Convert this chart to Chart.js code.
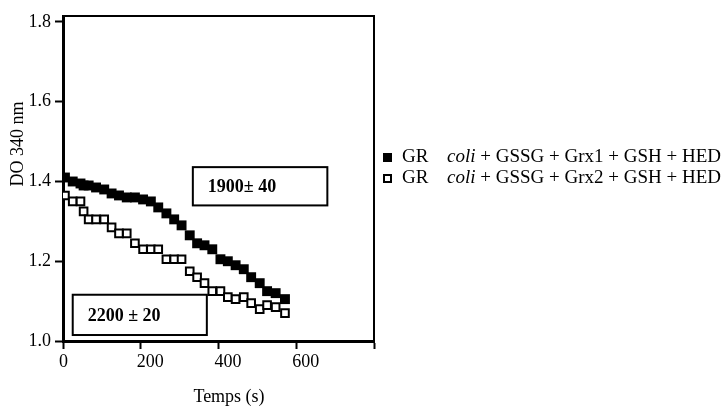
<!DOCTYPE html>
<html>
<head>
<meta charset="utf-8">
<title>DO 340 nm</title>
<script src="https://cdn.jsdelivr.net/npm/chart.js@4/dist/chart.umd.min.js"></script>
<style>
    body { margin: 0; background: #ffffff; }
    canvas { display: block; }
</style>
</head>
<body>
<canvas id="doChart" width="726" height="410"></canvas>
<script>
// Time points (s)
const times = [5, 25, 45, 53, 66, 85, 106, 125, 144, 164, 185, 206, 226, 245, 266, 286, 305, 326, 345, 364, 384, 405, 424, 444, 465, 484, 506, 525, 547, 571];

// DO 340 nm, GR coli + GSSG + Grx1 + GSH + HED (filled squares)
const grx1Values = [1.41, 1.40, 1.395, 1.39, 1.39, 1.385, 1.38, 1.37, 1.365, 1.36, 1.36, 1.355, 1.35, 1.335, 1.32, 1.305, 1.29, 1.265, 1.245, 1.24, 1.23, 1.205, 1.20, 1.19, 1.18, 1.16, 1.145, 1.125, 1.12, 1.105];

// DO 340 nm, GR coli + GSSG + Grx2 + GSH + HED (open squares)
const grx2Values = [1.365, 1.35, 1.35, 1.325, 1.305, 1.305, 1.305, 1.285, 1.27, 1.27, 1.245, 1.23, 1.23, 1.23, 1.205, 1.205, 1.205, 1.175, 1.16, 1.145, 1.125, 1.125, 1.11, 1.105, 1.11, 1.095, 1.08, 1.09, 1.085, 1.07];

// Axis ticks
const xTicks = [0, 200, 400, 600, 800];
const yTicks = [1.0, 1.2, 1.4, 1.6, 1.8];

// Legend and box texts
const legendPrefix = ['GR', 'GR'];
const legendItalic = ['coli', 'coli'];
const legendRest = [' + GSSG + Grx1 + GSH + HED', ' + GSSG + Grx2 + GSH + HED'];
const boxLabels = ['1900\u00b1 40', '2200 \u00b1 20'];

const SERIF = '"Liberation Serif", "Times New Roman", Times, serif';
Chart.defaults.font.family = SERIF;
Chart.defaults.color = '#000';

// Build {x, y} points from the arrays
function toPoints(values) {
    return values.map(function(v, i) {
        return { x: times[i], y: v };
    });
}

// Plugin: frame, axis titles, boxed rate labels and the legend
const extrasPlugin = {
    id: 'extras',
    afterDraw: function(chart) {
        const ctx = chart.ctx;
        const area = chart.chartArea;
        const xs = chart.scales.x;
        const ys = chart.scales.y;
        ctx.save();

        // top and right side of the frame
        ctx.strokeStyle = '#000';
        ctx.lineWidth = 2;
        ctx.beginPath();
        ctx.moveTo(area.left, area.top);
        ctx.lineTo(area.right, area.top);
        ctx.lineTo(area.right, area.bottom);
        ctx.stroke();

        // axis titles
        ctx.fillStyle = '#000';
        ctx.font = '18px ' + SERIF;
        ctx.textAlign = 'center';
        ctx.textBaseline = 'middle';
        ctx.fillText('Temps (s)', 229, 397);
        ctx.save();
        ctx.translate(18, 144);
        ctx.rotate(-Math.PI / 2);
        ctx.fillText('DO 340 nm', 0, 0);
        ctx.restore();

        // boxed labels, placed in data units
        const boxes = [
            { x0: 334, x1: 680, y0: 1.436, y1: 1.340, tx: 15 },
            { x0: 25, x1: 370, y0: 1.116, y1: 1.015, tx: 15 }
        ];
        ctx.lineWidth = 2;
        ctx.font = 'bold 18px ' + SERIF;
        ctx.textAlign = 'left';
        boxes.forEach(function(b, i) {
            const l = xs.getPixelForValue(b.x0);
            const r = xs.getPixelForValue(b.x1);
            const t = ys.getPixelForValue(b.y0);
            const bt = ys.getPixelForValue(b.y1);
            ctx.strokeRect(l, t, r - l, bt - t);
            ctx.fillText(boxLabels[i], l + b.tx, (t + bt) / 2 + 1);
        });

        // legend
        const rows = [157, 178];
        rows.forEach(function(y, i) {
            if (i === 0) {
                ctx.fillRect(383, y - 4, 9, 9);
            } else {
                ctx.lineWidth = 2;
                ctx.strokeRect(384, y - 3, 7, 7);
            }
            ctx.font = '19px ' + SERIF;
            ctx.fillText(legendPrefix[i], 402, y);
            ctx.font = 'italic 19px ' + SERIF;
            ctx.fillText(legendItalic[i], 447, y);
            const w = ctx.measureText(legendItalic[i]).width;
            ctx.font = '19px ' + SERIF;
            ctx.fillText(legendRest[i], 447 + w, y);
        });

        ctx.restore();
    }
};

var ctx = document.getElementById('doChart').getContext('2d');
var doChart = new Chart(ctx, {
    type: 'scatter',
    data: {
        datasets: [
            {
                label: 'GR coli + GSSG + Grx1 + GSH + HED',
                data: toPoints(grx1Values),
                pointStyle: 'rect',
                pointRadius: 7,
                backgroundColor: '#000',
                borderColor: '#000',
                borderWidth: 0,
                showLine: false
            },
            {
                label: 'GR coli + GSSG + Grx2 + GSH + HED',
                data: toPoints(grx2Values),
                pointStyle: 'rect',
                pointRadius: 5.4,
                backgroundColor: '#fff',
                borderColor: '#000',
                borderWidth: 2,
                showLine: false
            }
        ]
    },
    options: {
        responsive: false,
        animation: false,
        layout: {
            padding: { top: 16, right: 352, left: 0, bottom: 0 }
        },
        plugins: {
            legend: { display: false },
            tooltip: { enabled: false }
        },
        scales: {
            x: {
                type: 'linear',
                min: 0,
                max: 800,
                afterFit: function(scale) { scale.height = 69; },
                afterBuildTicks: function(scale) {
                    scale.ticks = xTicks.map(function(v) { return { value: v }; });
                },
                ticks: {
                    font: { size: 18 },
                    color: '#000',
                    align: 'start',
                    labelOffset: -4,
                    padding: 2,
                    maxRotation: 0,
                    callback: function(value) {
                        return value === 800 ? '' : value;
                    }
                },
                grid: {
                    drawOnChartArea: false,
                    tickLength: 8,
                    tickWidth: 2,
                    tickColor: '#000'
                },
                border: { display: true, color: '#000', width: 3 }
            },
            y: {
                type: 'linear',
                min: 1.0,
                max: 1.815,
                afterFit: function(scale) { scale.width = 63; },
                afterBuildTicks: function(scale) {
                    scale.ticks = yTicks.map(function(v) { return { value: v }; });
                },
                ticks: {
                    font: { size: 18 },
                    color: '#000',
                    padding: 4,
                    callback: function(value) {
                        return value.toFixed(1);
                    }
                },
                grid: {
                    drawOnChartArea: false,
                    tickLength: 8,
                    tickWidth: 2,
                    tickColor: '#000'
                },
                border: { display: true, color: '#000', width: 3 }
            }
        }
    },
    plugins: [extrasPlugin]
});
</script>
</body>
</html>
